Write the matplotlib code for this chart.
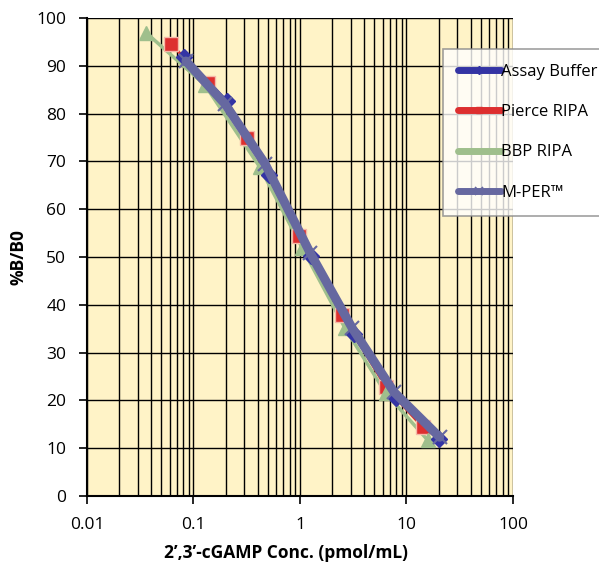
import numpy as np
import matplotlib
matplotlib.use("Agg")
import matplotlib.pyplot as plt
from matplotlib.ticker import LogLocator, FixedLocator, NullFormatter

# values
assay_x = [0.082, 0.205, 0.512, 1.28, 3.2, 8.0, 20.0]
assay_y = [91.8, 82.6, 67.2, 50.2, 33.8, 20.5, 12.0]

pierce_x = [0.062, 0.137, 0.32, 0.98, 2.47, 6.4, 14.2]
pierce_y = [94.5, 86.5, 75.0, 54.3, 37.9, 22.8, 14.4]

bbp_x = [0.036, 0.128, 0.42, 1.05, 2.65, 6.4, 15.8]
bbp_y = [96.9, 86.0, 68.8, 51.9, 35.1, 21.5, 11.7]

mper_x = [0.085, 0.198, 0.47, 1.25, 3.1, 7.6, 20.5]
mper_y = [91.0, 82.0, 69.5, 50.8, 35.1, 21.8, 12.3]

series_names = ["Assay Buffer", "Pierce RIPA", "BBP RIPA", "M-PER\u2122"]

plt.rcParams['font.family'] = ['Open Sans', 'DejaVu Sans']

fig = plt.figure(figsize=(5.99, 5.65), dpi=100)
ax = fig.add_axes([0.1452, 0.1221, 0.7112, 0.8460])
ax.set_facecolor("#fff3c7")

blue = "#3434a4"
red = "#dd2f2f"
green = "#9fbf8c"
purple = "#6668a0"

# lines (underneath), then markers
ax.plot(pierce_x, pierce_y, color=red, lw=2, zorder=2.2)
ax.plot(bbp_x, bbp_y, color=green, lw=2.5, zorder=2.3)
ax.plot(assay_x, assay_y, color=blue, lw=2.5, zorder=2.4)

ax.plot(pierce_x, pierce_y, lw=0, marker="s", ms=9.5, mfc=red, mec="#f5b8a8",
        mew=1.0, zorder=2.6)
ax.plot(bbp_x, bbp_y, lw=0, marker="^", ms=9.5, mfc=green, mec=green, zorder=2.7)
ax.plot(assay_x, assay_y, lw=0, marker="D", ms=8.5, mfc=blue, mec=blue, zorder=2.8)

ax.plot(mper_x, mper_y, color=purple, lw=6.5, marker="x", ms=10, mew=1.5, mec=purple,
        solid_capstyle="round", zorder=4)

# legend handles
h1, = ax.plot([], [], color=blue, lw=5, marker="D", ms=4, mfc=blue, mec=blue, solid_capstyle="round")
h2, = ax.plot([], [], color=red, lw=5, marker="s", ms=5, mfc=red, mec=red, solid_capstyle="round")
h3, = ax.plot([], [], color=green, lw=5, solid_capstyle="round")
h4, = ax.plot([], [], color=purple, lw=5, marker="x", ms=6, mew=1.2, mec=purple, solid_capstyle="round")

ax.set_xscale("log")
ax.set_xlim(0.01, 100)
ax.set_ylim(0, 100)
ax.set_yticks(np.arange(0, 101, 10))
ax.xaxis.set_major_locator(FixedLocator([0.01, 0.1, 1, 10, 100]))
ax.set_xticklabels(["0.01", "0.1", "1", "10", "100"])
ax.xaxis.set_minor_locator(LogLocator(base=10, subs=np.arange(2, 10)))
ax.xaxis.set_minor_formatter(NullFormatter())

ax.grid(True, which="major", color="black", lw=1.0, zorder=1)
ax.grid(True, which="minor", axis="x", color="black", lw=1.0, zorder=1)
ax.set_axisbelow(True)

ax.tick_params(axis="both", which="major", direction="out", length=6, width=1.2,
               labelsize=12.5, pad=9)
ax.tick_params(axis="x", which="minor", length=0)
for s in ["left", "bottom"]:
    ax.spines[s].set_linewidth(1.5)
for s in ["right", "top"]:
    ax.spines[s].set_visible(False)

ax.set_xlabel("2\u2019,3\u2019-cGAMP Conc. (pmol/mL)", fontsize=12.5, fontweight="bold")
ax.xaxis.set_label_coords(0.467, -0.1)
ax.set_ylabel("%B/B0", fontsize=12.5, fontweight="bold")
ax.yaxis.set_label_coords(-0.14, 0.5)

leg = ax.legend([h1, h2, h3, h4], series_names, loc="upper left", bbox_to_anchor=(0.835, 0.935),
                frameon=True, fancybox=False, fontsize=12, handlelength=2.6, handletextpad=0.0,
                labelspacing=1.45, borderpad=0.9, borderaxespad=0)
leg.get_frame().set_edgecolor("#888888")
leg.get_frame().set_linewidth(1.2)
leg.set_zorder(10)
leg.set_clip_on(False)

fig.savefig("out.png", dpi=100)
